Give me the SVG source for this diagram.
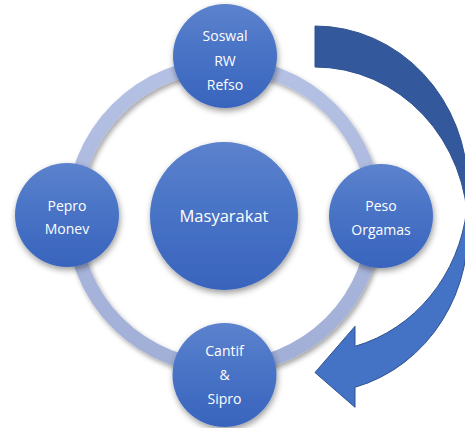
<svg xmlns="http://www.w3.org/2000/svg" width="465" height="428" viewBox="0 0 465 428">
  <defs>
    <linearGradient id="nodeGrad" x1="0" y1="0" x2="0" y2="1">
      <stop offset="0" stop-color="#5c82cd"/>
      <stop offset="0.5" stop-color="#4772c5"/>
      <stop offset="1" stop-color="#3964bd"/>
    </linearGradient>
    <linearGradient id="ringGrad" x1="0" y1="0" x2="0" y2="1">
      <stop offset="0" stop-color="#b5c1e4"/>
      <stop offset="1" stop-color="#a1aed6"/>
    </linearGradient>
    <filter id="shadow" x="-30%" y="-30%" width="160%" height="170%">
      <feDropShadow dx="1" dy="3" stdDeviation="3" flood-color="#000" flood-opacity="0.4"/>
    </filter>
    <filter id="ringShadow" x="-20%" y="-20%" width="140%" height="140%">
      <feDropShadow dx="2" dy="3" stdDeviation="2.5" flood-color="#000" flood-opacity="0.35"/>
    </filter>
  </defs>
  <style>
    .node { fill: url(#nodeGrad); filter: url(#shadow); }
    .label { font-family: "Open Sans", "Liberation Sans", sans-serif; font-size: 14px; fill: #ffffff; text-anchor: middle; }
    .big { font-size: 16.5px; }
    .ring { fill: none; stroke: url(#ringGrad); stroke-width: 14; filter: url(#ringShadow); }
    .arrowBack { fill: #33589c; stroke: #2f528f; stroke-width: 1; }
    .arrowFront { fill: #4472c4; stroke: #2f528f; stroke-width: 1; }
  </style>

  <g id="connectors">
    <circle class="ring" cx="224" cy="216" r="151"/>
    <path class="arrowBack" d="M 468,230 A 153 163 0 0 0 315,67 L 315,26 A 153 163 0 0 1 468,189 Z"/>
    <path class="arrowFront" d="M 466.8,209.5 A 153 163 0 0 1 355,387.3 L 355,407.3 L 315,372.5 L 355,326.3 L 355,346.3 A 153 163 0 0 0 466.8,209.5 Z"/>
  </g>

  <g id="node-masyarakat">
    <circle class="node" cx="224" cy="216" r="74"/>
    <text class="label big" x="224" y="222">Masyarakat</text>
  </g>

  <g id="node-soswal">
    <circle class="node" cx="225" cy="56" r="52"/>
    <text class="label" x="225" y="40.5">Soswal</text>
    <text class="label" x="225" y="66">RW</text>
    <text class="label" x="225" y="89.5">Refso</text>
  </g>

  <g id="node-pepro">
    <circle class="node" cx="67" cy="215" r="52"/>
    <text class="label" x="67" y="210.5">Pepro</text>
    <text class="label" x="67" y="234">Monev</text>
  </g>

  <g id="node-peso">
    <circle class="node" cx="381" cy="216" r="52"/>
    <text class="label" x="381" y="210.5">Peso</text>
    <text class="label" x="381" y="235">Orgamas</text>
  </g>

  <g id="node-cantif">
    <circle class="node" cx="224.5" cy="375" r="52"/>
    <text class="label" x="224.5" y="355.5">Cantif</text>
    <text class="label" x="224.5" y="380">&amp;</text>
    <text class="label" x="224.5" y="404">Sipro</text>
  </g>
</svg>
